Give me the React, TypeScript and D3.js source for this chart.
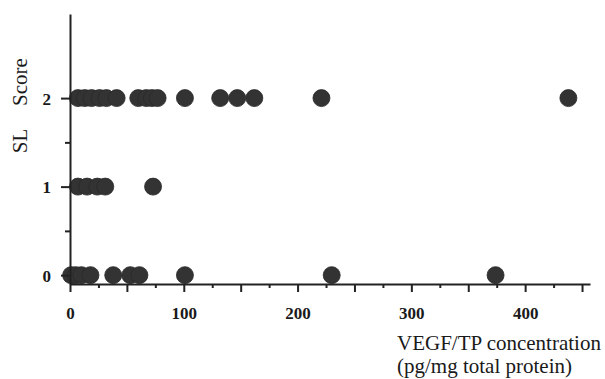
import React, { useEffect, useRef } from "react";
import * as d3 from "d3";

// VEGF/TP concentration (pg/mg total protein) per SL score
const score2 = [7, 13, 19, 26, 32, 41, 60, 67, 72, 77, 101, 132, 147, 162, 221, 438];
const score1 = [7, 15, 24, 31, 73];
const score0 = [1, 5, 10, 18, 38, 53, 61, 101, 230, 374];

const yTicks = [0, 1, 2];
const yMinorTicks = [0.5, 1.5];
const xTicks = d3.range(0, 451, 25);

const width = 605;
const height = 379;
const font = "'Liberation Serif', 'Times New Roman', serif";

const App = () => {
  const ref = useRef<SVGSVGElement | null>(null);

  useEffect(() => {
    const svg = d3.select(ref.current);
    svg.selectAll("*").remove();

    const x = d3.scaleLinear().domain([0, 457]).range([70, 590]);
    const y = d3.scaleLinear().domain([-0.1, 2.95]).range([284, 14]);

    const points = [
      ...score2.map((v) => ({ v, s: 2 })),
      ...score1.map((v) => ({ v, s: 1 })),
      ...score0.map((v) => ({ v, s: 0 })),
    ];

    //points
    svg
      .append("g")
      .selectAll("circle")
      .data(points)
      .join("circle")
      .attr("cx", (d) => x(d.v))
      .attr("cy", (d) => y(d.s))
      .attr("r", 8.5)
      .attr("fill", "#333")
      .attr("stroke", "#2a2a2a")
      .attr("stroke-width", 0.8);

    //y axis
    const gy = svg
      .append("g")
      .attr("transform", "translate(70,0)")
      .call(
        d3
          .axisLeft(y)
          .tickValues([...yTicks, ...yMinorTicks])
          .tickSizeOuter(0)
          .tickFormat((d) => (yTicks.includes(+d) ? String(d) : ""))
      );
    gy.selectAll(".tick line").attr("x2", (d: any) => (yTicks.includes(d) ? -9 : -5));
    gy.selectAll(".tick text")
      .attr("x", -19)
      .attr("dy", "0.35em")
      .style("font-family", font)
      .style("font-weight", "bold")
      .style("font-size", "17px");

    //x axis
    const gx = svg
      .append("g")
      .attr("transform", "translate(0,284)")
      .call(
        d3
          .axisBottom(x)
          .tickValues(xTicks)
          .tickSizeOuter(0)
          .tickFormat((d) => (+d % 100 === 0 ? String(d) : ""))
      );
    gx.selectAll(".tick line").attr("y2", (d: any) => (d % 50 === 0 ? 8 : 4));
    gx.selectAll(".tick text")
      .attr("y", 35)
      .attr("dy", 0)
      .style("font-family", font)
      .style("font-weight", "bold")
      .style("font-size", "17px");

    svg.selectAll(".domain, .tick line").attr("stroke", "#222").attr("stroke-width", 2);
    svg.selectAll(".tick text").attr("fill", "#1a1a1a");

    //axis titles
    const titles = svg
      .append("g")
      .style("font-family", font)
      .style("font-size", "21px")
      .attr("fill", "#1a1a1a");
    titles
      .append("text")
      .attr("transform", "translate(27,82) rotate(-90)")
      .attr("text-anchor", "middle")
      .text("Score");
    titles
      .append("text")
      .attr("transform", "translate(27,141) rotate(-90)")
      .attr("text-anchor", "middle")
      .text("SL");
    titles.append("text").attr("x", 397).attr("y", 350).text("VEGF/TP concentration");
    titles.append("text").attr("x", 397).attr("y", 373).text("(pg/mg total protein)");
  }, []);

  return (
    <svg
      ref={ref}
      width={width}
      height={height}
      style={{ position: "absolute", left: 0, top: 0, background: "#fff" }}
    />
  );
};

export default App;
